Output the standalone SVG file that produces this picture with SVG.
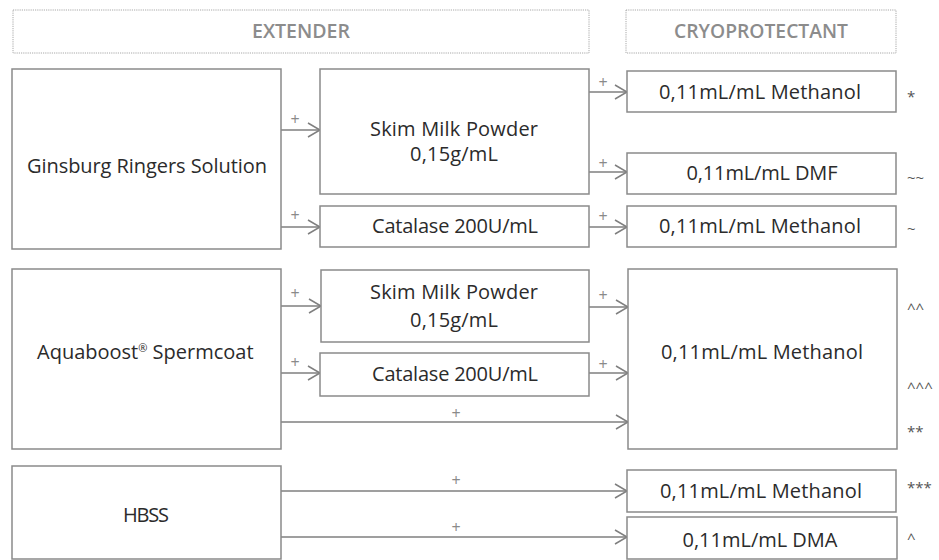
<svg xmlns="http://www.w3.org/2000/svg" width="939" height="560" viewBox="0 0 939 560">
<style>
  .bg{fill:#ffffff}
  .hdr{fill:#ffffff;stroke:#a8a8a8;stroke-width:1;stroke-dasharray:1.2 1}
  .hdrt{font-family:"Open Sans","Liberation Sans",sans-serif;font-size:19px;font-weight:600;fill:#8c8c8c;text-anchor:middle}
  .box{fill:#ffffff;stroke:#8a8a8a;stroke-width:1.5}
  .t{font-family:"Open Sans","Liberation Sans",sans-serif;font-size:20px;fill:#2b2b2b;text-anchor:middle}
  .plus{font-family:"Open Sans","Liberation Sans",sans-serif;font-size:16px;fill:#8a8a8a;text-anchor:middle}
  .sym{font-family:"Open Sans","Liberation Sans",sans-serif;font-size:15px;fill:#555555}
  .con{stroke:#7f7f7f;stroke-width:1.5;fill:none;marker-end:url(#arr)}
</style>
<defs>
  <marker id="arr" markerUnits="userSpaceOnUse" markerWidth="16" markerHeight="18" viewBox="-14 -9 16 18" refX="0" refY="0" orient="auto">
    <path d="M-12,-7 L0,0 L-12,7" fill="none" stroke="#7f7f7f" stroke-width="1.5"/>
  </marker>
</defs>
<rect class="bg" x="0" y="0" width="939" height="560"/>

<g id="header-extender">
  <rect class="hdr" x="13" y="10" width="576" height="43"/>
  <text class="hdrt" x="301" y="38" textLength="98" lengthAdjust="spacingAndGlyphs">EXTENDER</text>
</g>
<g id="header-cryoprotectant">
  <rect class="hdr" x="626" y="10" width="270" height="43"/>
  <text class="hdrt" x="761" y="38" textLength="174" lengthAdjust="spacingAndGlyphs">CRYOPROTECTANT</text>
</g>

<g id="connectors">
  <line class="con" x1="281" y1="130" x2="320" y2="130"/>
  <line class="con" x1="281" y1="227" x2="320" y2="227"/>
  <line class="con" x1="589" y1="92" x2="627" y2="92"/>
  <line class="con" x1="589" y1="172" x2="627" y2="172"/>
  <line class="con" x1="589" y1="227" x2="627" y2="227"/>
  <line class="con" x1="281" y1="306" x2="321" y2="306"/>
  <line class="con" x1="281" y1="373" x2="320" y2="373"/>
  <line class="con" x1="589" y1="307" x2="628" y2="307"/>
  <line class="con" x1="589" y1="373" x2="628" y2="373"/>
  <line class="con" x1="281" y1="422" x2="628" y2="422"/>
  <line class="con" x1="281" y1="491" x2="627" y2="491"/>
  <line class="con" x1="281" y1="537" x2="627" y2="537"/>
  <text class="plus" x="295" y="125">+</text>
  <text class="plus" x="295" y="221">+</text>
  <text class="plus" x="603" y="88">+</text>
  <text class="plus" x="603" y="169">+</text>
  <text class="plus" x="603" y="222">+</text>
  <text class="plus" x="295" y="299">+</text>
  <text class="plus" x="295" y="368">+</text>
  <text class="plus" x="603" y="301">+</text>
  <text class="plus" x="603" y="370">+</text>
  <text class="plus" x="456" y="419">+</text>
  <text class="plus" x="456" y="486">+</text>
  <text class="plus" x="456" y="533">+</text>
</g>

<g id="ginsburg">
  <rect class="box" x="12" y="69" width="269" height="180"/>
  <text class="t" x="147" y="173" textLength="240">Ginsburg Ringers Solution</text>
</g>
<g id="skim1">
  <rect class="box" x="320" y="69" width="269" height="125"/>
  <text class="t" x="454" y="136" textLength="168">Skim Milk Powder</text>
  <text class="t" x="454" y="161" textLength="88">0,15g/mL</text>
</g>
<g id="catalase1">
  <rect class="box" x="320" y="206" width="269" height="41"/>
  <text class="t" x="455" y="233" textLength="166">Catalase 200U/mL</text>
</g>
<g id="methanol1">
  <rect class="box" x="627" y="71" width="269" height="41"/>
  <text class="t" x="760" y="99" textLength="202">0,11mL/mL Methanol</text>
  <text class="sym" x="907" y="102">*</text>
</g>
<g id="dmf">
  <rect class="box" x="627" y="153" width="269" height="41"/>
  <text class="t" x="762" y="180" textLength="151">0,11mL/mL DMF</text>
  <text class="sym" x="907" y="183">~~</text>
</g>
<g id="methanol2">
  <rect class="box" x="627" y="206" width="269" height="41"/>
  <text class="t" x="760" y="233" textLength="202">0,11mL/mL Methanol</text>
  <text class="sym" x="907" y="234">~</text>
</g>

<g id="aquaboost">
  <rect class="box" x="12" y="269" width="269" height="180"/>
  <text class="t" x="37" y="359" style="text-anchor:start">Aquaboost<tspan font-size="11" dy="-7">®</tspan><tspan dy="7"> Spermcoat</tspan></text>
</g>
<g id="skim2">
  <rect class="box" x="321" y="270" width="268" height="72"/>
  <text class="t" x="454" y="299" textLength="168">Skim Milk Powder</text>
  <text class="t" x="454" y="327" textLength="88">0,15g/mL</text>
</g>
<g id="catalase2">
  <rect class="box" x="320" y="353" width="269" height="43"/>
  <text class="t" x="455" y="381" textLength="166">Catalase 200U/mL</text>
</g>
<g id="methanol-big">
  <rect class="box" x="628" y="269" width="269" height="180"/>
  <text class="t" x="762" y="359" textLength="202">0,11mL/mL Methanol</text>
  <text class="sym" x="907" y="314">^^</text>
  <text class="sym" x="907" y="393">^^^</text>
  <text class="sym" x="907" y="437">**</text>
</g>

<g id="hbss">
  <rect class="box" x="12" y="466" width="269" height="93"/>
  <text class="t" x="146" y="522" textLength="46">HBSS</text>
</g>
<g id="methanol3">
  <rect class="box" x="627" y="470" width="269" height="42"/>
  <text class="t" x="761" y="498" textLength="202">0,11mL/mL Methanol</text>
  <text class="sym" x="907" y="493">***</text>
</g>
<g id="dma">
  <rect class="box" x="627" y="517" width="270" height="42"/>
  <text class="t" x="760" y="547" textLength="155">0,11mL/mL DMA</text>
  <text class="sym" x="907" y="544">^</text>
</g>
</svg>
